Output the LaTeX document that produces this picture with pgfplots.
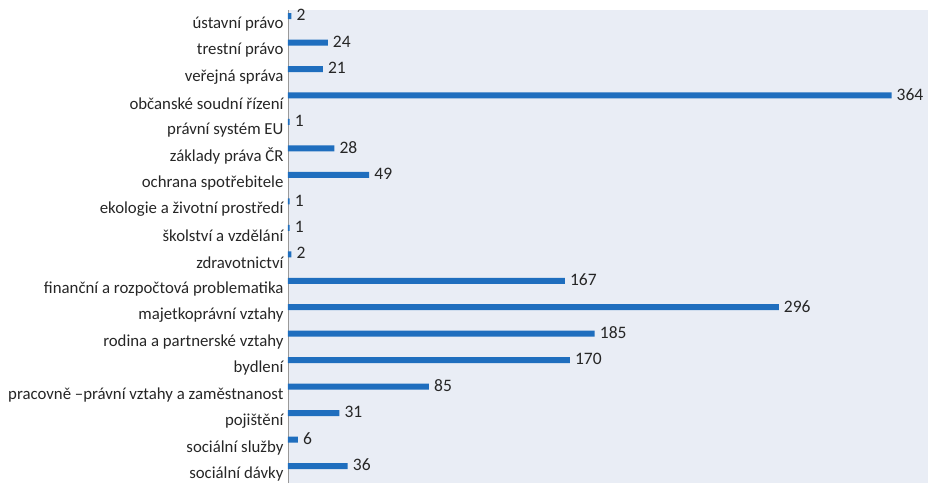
\documentclass[border=0pt]{standalone}
\usepackage{fontspec}
\setmainfont{Carlito}
\usepackage{pgfplots}
\pgfplotsset{compat=1.18}
\definecolor{barblue}{RGB}{31,110,190}
\definecolor{plotbg}{RGB}{233,237,245}
\begin{document}
\begin{tikzpicture}
\begin{axis}[
  scale only axis,
  width=640pt, height=473pt,
  xbar, bar width=6pt,
  xmin=0, xmax=386,
  ymin=-0.64, ymax=17.23,
  ytick={0,...,17},
  yticklabels={sociální dávky,sociální služby,pojištění,pracovně –právní vztahy a zaměstnanost,bydlení,rodina a partnerské vztahy,majetkoprávní vztahy,finanční a rozpočtová problematika,zdravotnictví,školství a vzdělání,ekologie a životní prostředí,ochrana spotřebitele,základy práva ČR,právní systém EU,občanské soudní řízení,veřejná správa,trestní právo,ústavní právo},
  yticklabel style={font=\fontsize{16.8}{18}\selectfont, yshift=-8pt, xshift=-1pt, text=black!85},
  xtick=\empty,
  major tick length=0pt,
  axis lines*=left,
  axis x line=none,
  y axis line style={draw=gray!80, line width=0.8pt},
  axis background/.style={fill=plotbg},
  nodes near coords,
  every node near coord/.append style={font=\fontsize{17.5}{18}\selectfont, anchor=west, xshift=3pt, yshift=1pt, inner xsep=2pt, text=black!85},
  point meta=explicit symbolic,
]
\addplot[fill=barblue, draw=none] coordinates {
 (36,0) [36]
 (6,1) [6]
 (31,2) [31]
 (85,3) [85]
 (170,4) [170]
 (185,5) [185]
 (296,6) [296]
 (167,7) [167]
 (2,8) [2]
 (1,9) [1]
 (1,10) [1]
 (49,11) [49]
 (28,12) [28]
 (1,13) [1]
 (364,14) [364]
 (21,15) [21]
 (24,16) [24]
 (2,17) [2]
};
\end{axis}
\path (-288pt,-0pt) rectangle (640pt,483pt);
\end{tikzpicture}
\end{document}
